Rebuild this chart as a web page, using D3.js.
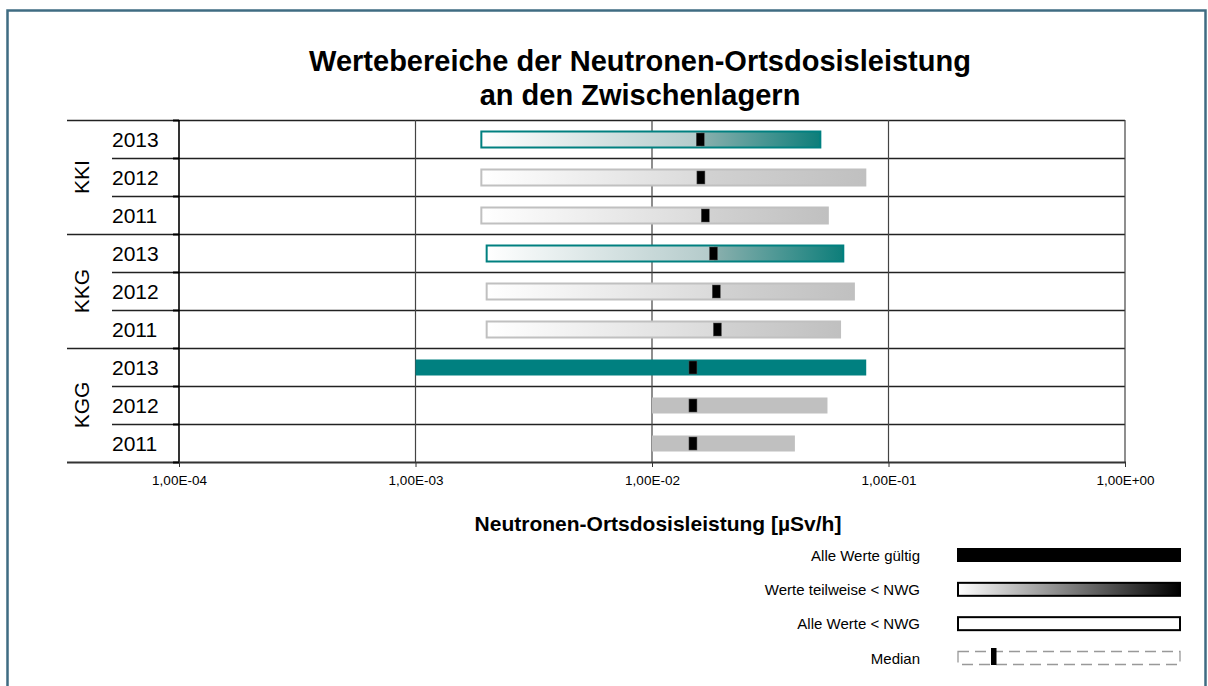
<!DOCTYPE html>
<html>
<head>
<meta charset="utf-8">
<script src="https://cdn.jsdelivr.net/npm/d3@7"></script>
<style>
  body { margin: 0; background: #fff; }
  text { font-family: "Liberation Sans", Arial, sans-serif; fill: #000; }
</style>
</head>
<body>
<div id="chart"></div>
<script>
// rows top to bottom
var groups = ["KKI", "KKG", "KGG"]
var years = ["2013", "2012", "2011"]
var minVals = [1.88e-3, 1.88e-3, 1.88e-3, 1.98e-3, 1.98e-3, 1.98e-3, 1.0e-3, 1.0e-2, 1.0e-2]
var maxVals = [0.0515, 0.0798, 0.0554, 0.0644, 0.0714, 0.0624, 0.0805, 0.0552, 0.0402]
var medVals = [0.0160, 0.0161, 0.0168, 0.0182, 0.0187, 0.0189, 0.0149, 0.0149, 0.0149]
// "partial" = werte teilweise < NWG, "valid" = alle werte gueltig
var barTypes = ["partial", "partial", "partial", "partial", "partial", "partial", "valid", "valid", "valid"]
var barColors = ["#008080", "#c0c0c0", "#c0c0c0", "#008080", "#c0c0c0", "#c0c0c0", "#008080", "#c0c0c0", "#c0c0c0"]
var tickVals = [1e-4, 1e-3, 1e-2, 1e-1, 1]
var tickLabels = ["1,00E-04", "1,00E-03", "1,00E-02", "1,00E-01", "1,00E+00"]
var legendLabels = ["Alle Werte gültig", "Werte teilweise < NWG", "Alle Werte < NWG", "Median"]

var width = 1208, height = 686
var plotLeft = 179, plotRight = 1125, plotTop = 120, plotBottom = 462

var rows = []
groups.forEach(function(g, i) {
  years.forEach(function(yr, j) {
    var k = i * years.length + j
    rows.push({id: g + "_" + yr, group: g, year: yr, min: minVals[k], max: maxVals[k],
      med: medVals[k], type: barTypes[k], color: barColors[k]})
  })
})

var svg = d3.select("#chart").append("svg").attr("width", width).attr("height", height)
var defs = svg.append("defs")

// outer frame
svg.append("rect").attr("x", 7.5).attr("y", 10.5).attr("width", 1198).attr("height", 720)
  .attr("fill", "none").attr("stroke", "#3f6c82").attr("stroke-width", 2.5)

var x = d3.scaleLog().domain([1e-4, 1]).range([plotLeft, plotRight])
var y = d3.scaleBand().domain(rows.map(function(d) { return d.id })).range([plotTop, plotBottom])
var bh = y.bandwidth()

// title
svg.append("text").attr("x", 640).attr("y", 71).attr("text-anchor", "middle")
  .style("font-size", "29px").style("font-weight", "bold")
  .text("Wertebereiche der Neutronen-Ortsdosisleistung")
svg.append("text").attr("x", 640).attr("y", 105).attr("text-anchor", "middle")
  .style("font-size", "29px").style("font-weight", "bold")
  .text("an den Zwischenlagern")

// horizontal lines
svg.selectAll(".hline").data(rows).enter().append("line")
  .attr("x1", function(d, i) { return i % 3 == 0 ? 67 : 112 })
  .attr("x2", plotRight)
  .attr("y1", function(d) { return y(d.id) + 0.5 })
  .attr("y2", function(d) { return y(d.id) + 0.5 })
  .attr("stroke", "#222").attr("stroke-width", 1.3)

// vertical gridlines
svg.selectAll(".vline").data(tickVals).enter().append("line")
  .attr("x1", function(d) { return x(d) }).attr("x2", function(d) { return x(d) })
  .attr("y1", plotTop).attr("y2", plotBottom)
  .attr("stroke", function(d, i) { return i == 0 ? "#000" : "#444" })
  .attr("stroke-width", function(d, i) { return i == 0 ? 1.6 : 1.2 })

// bottom axis
svg.append("line").attr("x1", 67).attr("x2", plotRight + 1).attr("y1", plotBottom + 0.5).attr("y2", plotBottom + 0.5)
  .attr("stroke", "#333").attr("stroke-width", 2)
var xAxis = svg.append("g").attr("transform", "translate(0," + (plotBottom + 1) + ")")
  .call(d3.axisBottom(x).tickValues(tickVals).tickSize(4).tickFormat(function(d, i) { return tickLabels[i] }))
xAxis.select(".domain").remove()
xAxis.selectAll(".tick line").attr("stroke", "#333")
xAxis.selectAll(".tick text").attr("dy", 0).attr("y", 22)
  .style("font-size", "13.5px").style("font-family", "Liberation Sans, Arial, sans-serif").attr("fill", "#000")

// y ticks on left axis
svg.selectAll(".ytick").data(rows.map(function(d) { return y(d.id) }).concat([plotBottom])).enter().append("line")
  .attr("x1", plotLeft - 6).attr("x2", plotLeft).attr("y1", function(d) { return d + 0.5 }).attr("y2", function(d) { return d + 0.5 })
  .attr("stroke", "#000").attr("stroke-width", 2)

// year labels
svg.selectAll(".year").data(rows).enter().append("text")
  .attr("x", 112).attr("y", function(d) { return y(d.id) + bh / 2 + 7.5 })
  .style("font-size", "21px").text(function(d) { return d.year })

// group labels
groups.forEach(function(g, i) {
  var cy = y(g + "_" + years[0]) + bh * years.length / 2
  svg.append("text").attr("transform", "translate(89," + cy + ") rotate(-90)")
    .attr("text-anchor", "middle").style("font-size", "21px").text(g)
})

// gradients for partial bars
rows.forEach(function(d, i) {
  if (d.type != "partial") return
  var off = (x(d.med) - x(d.min)) / (x(d.max) - x(d.min))
  var teal = d.color == "#008080"
  var gr = defs.append("linearGradient").attr("id", "grad" + i)
  gr.append("stop").attr("offset", 0).attr("stop-color", "#ffffff")
  gr.append("stop").attr("offset", off).attr("stop-color", teal ? "#b3caca" : "#dadada")
  gr.append("stop").attr("offset", off).attr("stop-color", teal ? "#8bb0ae" : "#d2d2d2")
  gr.append("stop").attr("offset", 1).attr("stop-color", teal ? "#0d7e7a" : "#c0c0c0")
})

var barH = 16
svg.selectAll(".bar").data(rows).enter().append("rect")
  .attr("x", function(d) { return x(d.min) + (d.type == "partial" ? 1 : 0) })
  .attr("y", function(d) { return y(d.id) + bh / 2 - barH / 2 + 0.5 })
  .attr("width", function(d) { return x(d.max) - x(d.min) - (d.type == "partial" ? 1 : 0) })
  .attr("height", barH)
  .attr("fill", function(d, i) { return d.type == "partial" ? "url(#grad" + i + ")" : d.color })
  .attr("stroke", function(d) { return d.type == "partial" ? d.color : "none" })
  .attr("stroke-width", 2)

// medians
svg.selectAll(".med").data(rows).enter().append("rect")
  .attr("x", function(d) { return x(d.med) - 4 })
  .attr("y", function(d) { return y(d.id) + bh / 2 - 6 })
  .attr("width", 8).attr("height", 13)
  .attr("fill", "#000").attr("stroke", "#555").attr("stroke-width", 0.5)

// axis title
svg.append("text").attr("x", 658).attr("y", 531).attr("text-anchor", "middle")
  .style("font-size", "21px").style("font-weight", "bold")
  .text("Neutronen-Ortsdosisleistung [µSv/h]")

// legend
var lg = defs.append("linearGradient").attr("id", "legGrad")
lg.append("stop").attr("offset", 0).attr("stop-color", "#fff")
lg.append("stop").attr("offset", 1).attr("stop-color", "#000")

var legY = d3.scalePoint().domain(legendLabels).range([555, 658])
var lx0 = 958, lx1 = 1180
svg.selectAll(".leglabel").data(legendLabels).enter().append("text")
  .attr("x", 920).attr("y", function(d) { return legY(d) + 5.5 }).attr("text-anchor", "end")
  .style("font-size", "15px").text(function(d) { return d })

svg.append("rect").attr("x", lx0 - 1).attr("y", legY(legendLabels[0]) - 7).attr("width", lx1 - lx0 + 2).attr("height", 14)
  .attr("fill", "#000")
svg.append("rect").attr("x", lx0).attr("y", legY(legendLabels[1]) - 6.5).attr("width", lx1 - lx0).attr("height", 13)
  .attr("fill", "url(#legGrad)").attr("stroke", "#000").attr("stroke-width", 2)
svg.append("rect").attr("x", lx0).attr("y", legY(legendLabels[2]) - 6.5).attr("width", lx1 - lx0).attr("height", 13)
  .attr("fill", "#fff").attr("stroke", "#000").attr("stroke-width", 2)
svg.append("rect").attr("x", lx0).attr("y", legY(legendLabels[3]) - 6.5).attr("width", lx1 - lx0).attr("height", 13)
  .attr("fill", "none").attr("stroke", "#999").attr("stroke-width", 1.3).attr("stroke-dasharray", "11,6")
svg.append("rect").attr("x", 991).attr("y", legY(legendLabels[3]) - 10).attr("width", 5.5).attr("height", 17)
  .attr("fill", "#000")
</script>
</body>
</html>
